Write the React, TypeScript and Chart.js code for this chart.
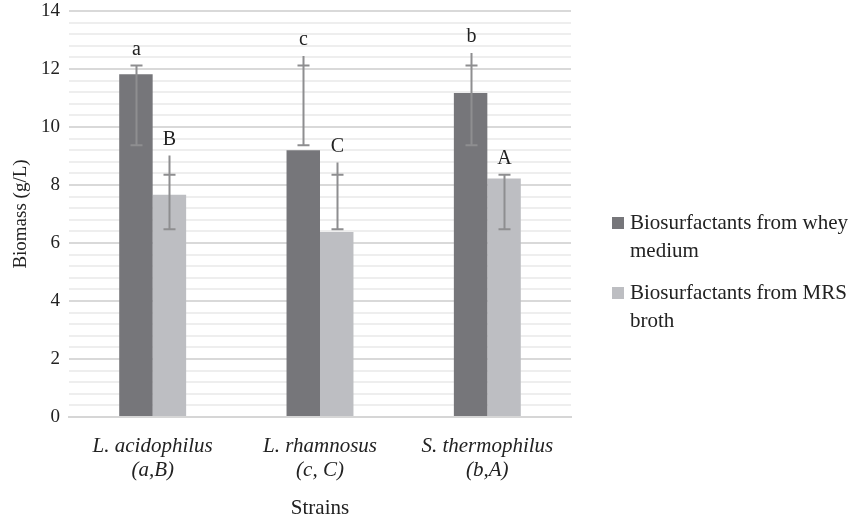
import React, { useEffect, useRef } from 'react';
import { Chart, registerables } from 'chart.js';

Chart.register(...registerables);

const categories = [
  ['L. acidophilus', '(a,B)'],
  ['L. rhamnosus', '(c, C)'],
  ['S. thermophilus', '(b,A)'],
];
const seriesNames = ['Biosurfactants from whey medium', 'Biosurfactants from MRS broth'];
const legendLines = [
  ['Biosurfactants from whey', 'medium'],
  ['Biosurfactants from MRS', 'broth'],
];
const wheyValues = [11.82, 9.2, 11.17];
const mrsValues = [7.66, 6.38, 8.22];
const wheyErrLow = [9.37, 9.37, 9.37];
const wheyErrHigh = [12.12, 12.12, 12.12];
const wheyLineTop = [12.12, 12.45, 12.55];
const mrsErrLow = [6.47, 6.47, 6.47];
const mrsErrHigh = [8.35, 8.35, 8.35];
const mrsLineTop = [9.02, 8.78, 8.35];
const wheyLetters = ['a', 'c', 'b'];
const mrsLetters = ['B', 'C', 'A'];
const yMin = 0;
const yMax = 14;
const yMinorStep = 0.4;
const yMajorStep = 2;

const DARK = '#76767a';
const LIGHT = '#bdbec2';
const ERR = '#8e8e90';
const TEXT = '#222222';
const FONT = '"Liberation Serif", "Times New Roman", serif';

const isMajor = (v: number) => Math.abs(v / yMajorStep - Math.round(v / yMajorStep)) < 1e-6;

const errorPlugin = {
  id: 'errorBarsLetters',
  afterDatasetsDraw(chart: any) {
    const ctx = chart.ctx;
    const y = chart.scales.y;
    const sets = [
      { low: wheyErrLow, high: wheyErrHigh, top: wheyLineTop, letters: wheyLetters },
      { low: mrsErrLow, high: mrsErrHigh, top: mrsLineTop, letters: mrsLetters },
    ];
    sets.forEach((s, di) => {
      const meta = chart.getDatasetMeta(di);
      meta.data.forEach((el: any, i: number) => {
        const x = Math.round(el.x) + 0.5;
        const pLow = y.getPixelForValue(s.low[i]);
        const pHigh = y.getPixelForValue(s.high[i]);
        const topVal = Math.max(s.high[i], s.top[i]);
        const pTop = y.getPixelForValue(topVal);
        ctx.save();
        ctx.strokeStyle = ERR;
        ctx.lineWidth = 2;
        ctx.beginPath();
        ctx.moveTo(x, pLow);
        ctx.lineTo(x, pTop);
        ctx.moveTo(x - 6, pLow);
        ctx.lineTo(x + 6, pLow);
        ctx.moveTo(x - 6, pHigh);
        ctx.lineTo(x + 6, pHigh);
        ctx.stroke();
        ctx.fillStyle = TEXT;
        ctx.font = `20px ${FONT}`;
        ctx.textAlign = 'center';
        ctx.textBaseline = 'middle';
        ctx.fillText(s.letters[i], x, pTop - 16);
        ctx.restore();
      });
    });
  },
  afterDraw(chart: any) {
    const ctx = chart.ctx;
    const colors = [DARK, LIGHT];
    const ys = [223, 293];
    ctx.save();
    ctx.font = `21px ${FONT}`;
    ctx.textBaseline = 'middle';
    ctx.textAlign = 'left';
    legendLines.forEach((lines, i) => {
      ctx.fillStyle = colors[i];
      ctx.fillRect(612, ys[i] - 6, 12, 12);
      ctx.fillStyle = TEXT;
      lines.forEach((ln, k) => {
        ctx.fillText(ln, 630, ys[i] + k * 28);
      });
    });
    ctx.restore();
  },
};

export default function App() {
  const ref = useRef<HTMLCanvasElement | null>(null);
  useEffect(() => {
    if (!ref.current) return;
    const chart = new Chart(ref.current, {
      type: 'bar',
      data: {
        labels: categories,
        datasets: [
          {
            label: seriesNames[0],
            data: wheyValues,
            backgroundColor: DARK,
            categoryPercentage: 0.4,
            barPercentage: 1,
          },
          {
            label: seriesNames[1],
            data: mrsValues,
            backgroundColor: LIGHT,
            categoryPercentage: 0.4,
            barPercentage: 1,
          },
        ],
      },
      options: {
        responsive: false,
        animation: false,
        layout: { padding: { top: 11, right: 280, bottom: 0, left: 0 } },
        plugins: {
          legend: { display: false },
          tooltip: { enabled: false },
        },
        scales: {
          x: {
            grid: { display: false },
            border: { display: true, color: '#d6d6d6', width: 2 },
            ticks: {
              color: TEXT,
              font: { family: FONT, size: 21, style: 'italic', lineHeight: 1.15 },
              padding: 9,
              maxRotation: 0,
            },
            title: {
              display: true,
              text: 'Strains',
              color: TEXT,
              font: { family: FONT, size: 21, lineHeight: 1.2 },
              padding: { top: 0, bottom: -4 },
            },
            afterFit: (scale: any) => {
              scale.height = 100;
              scale.paddingLeft = 0;
              scale.paddingRight = 0;
            },
          },
          y: {
            min: yMin,
            max: yMax,
            border: { display: false },
            grid: {
              drawTicks: false,
              color: (c: any) => (isMajor(c.tick.value) ? '#d9d9d9' : '#eeeeee'),
              lineWidth: 2,
            },
            ticks: {
              stepSize: yMinorStep,
              autoSkip: false,
              color: TEXT,
              padding: 9,
              font: { family: FONT, size: 19 },
              callback: (v: any) => (isMajor(Number(v)) ? String(Math.round(Number(v))) : ''),
            },
            title: {
              display: true,
              text: 'Biomass (g/L)',
              color: TEXT,
              font: { family: FONT, size: 19, lineHeight: 1.2 },
              padding: { top: 10, bottom: 0 },
            },
            afterFit: (scale: any) => {
              scale.width = 69;
              scale.paddingTop = 0;
              scale.paddingBottom = 0;
            },
          },
        },
      },
      plugins: [errorPlugin],
    });
    return () => chart.destroy();
  }, []);
  return (
    <div style={{ position: 'absolute', left: 0, top: 0, width: 851, height: 517, background: '#fff' }}>
      <canvas ref={ref} width={851} height={517} style={{ display: 'block' }} />
    </div>
  );
}
